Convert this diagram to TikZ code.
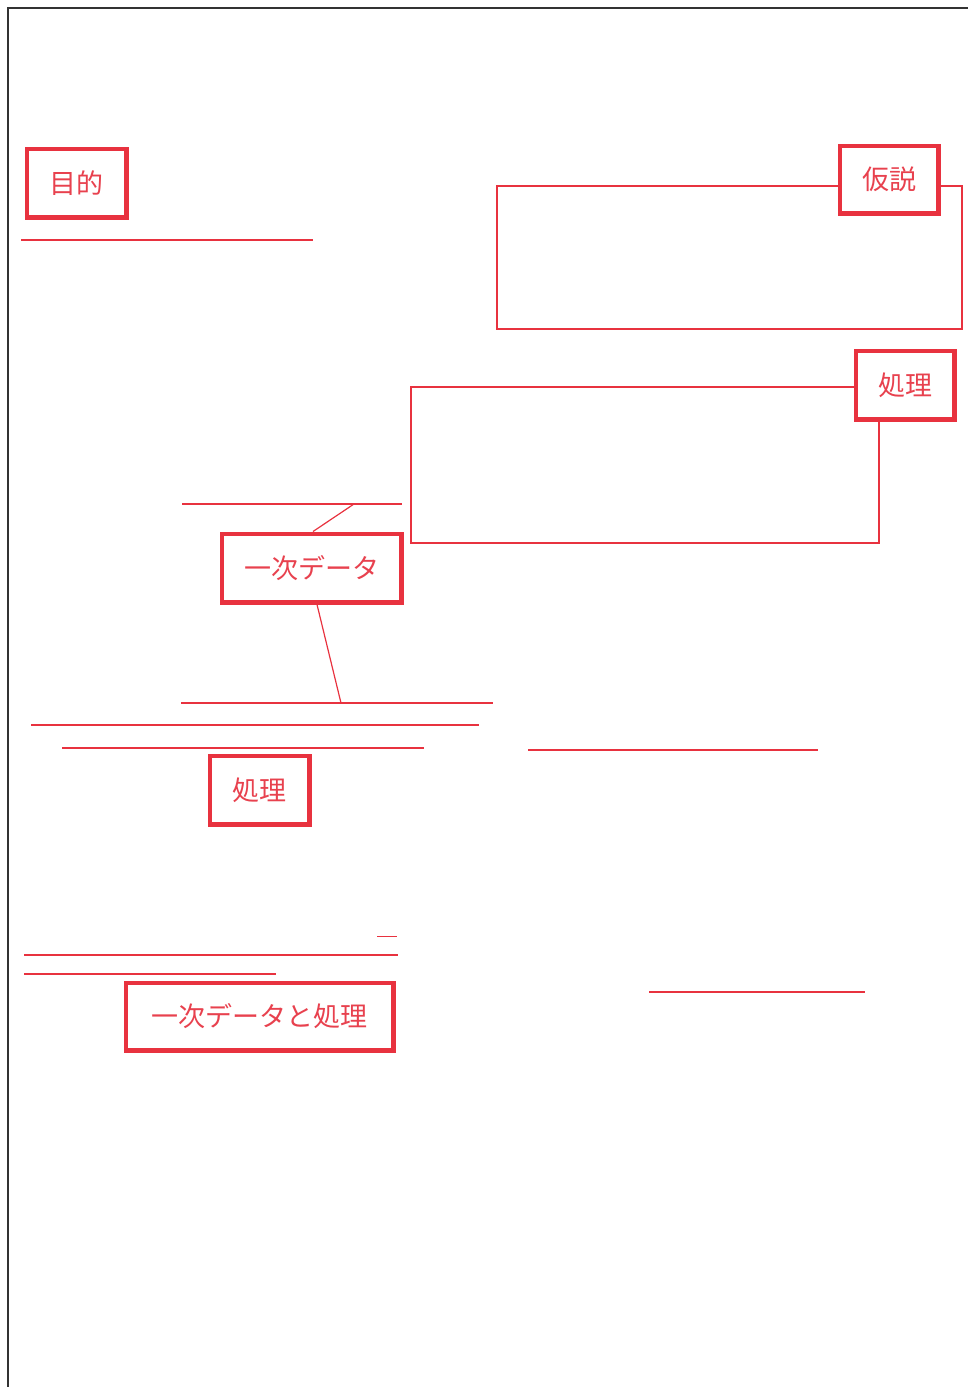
\documentclass[tikz,border=0pt]{standalone}
\usepackage{fontspec}
\newfontfamily\jpfont{Noto Sans CJK JP}
\definecolor{rd}{HTML}{E8323F}
\definecolor{rdtxt}{HTML}{E8414E}
\definecolor{frm}{HTML}{333333}
\tikzset{
  lbl/.style={draw=rd, line width=4.5pt, fill=white, inner sep=0pt, text=rdtxt,
              font=\jpfont\fontsize{27}{31}\selectfont, anchor=north west},
  thin/.style={draw=rd, line width=1.2pt},
  frame/.style={draw=frm, line width=2pt}
}
\begin{document}
\begin{tikzpicture}[x=1pt,y=-1pt]
\useasboundingbox (0,0) rectangle (968,1387);
% frame
\draw[frame] (8,1387) -- (8,8) -- (968,8);
% 目的
\node[lbl, minimum width=99.5pt, minimum height=68.5pt] (mokuteki) at (24.5,146.5) {目的};
\coordinate (l1a) at (21,240); \coordinate (l1b) at (313,240);
\draw[thin] (l1a) -- (l1b);
% 仮説 rectangle
\coordinate (r1a) at (497,186); \coordinate (r1b) at (497,329);
\coordinate (r1c) at (962,329); \coordinate (r1d) at (962,186);
\node[lbl, minimum width=98.5pt, minimum height=67.5pt] (kasetsu) at (837.5,143.5) {仮説};
\draw[thin] (kasetsu.west |- r1a) -- (r1a) -- (r1b) -- (r1c) -- (r1d) -- (kasetsu.east |- r1d);
% 処理 rectangle (top right)
\node[lbl, minimum width=98.5pt, minimum height=68.5pt] (shori1) at (853.5,348.5) {処理};
\coordinate (r2a) at (411,387); \coordinate (r2b) at (411,543);
\coordinate (r2c) at (879,543);
\draw[thin] (shori1.west |- r2a) -- (r2a) -- (r2b) -- (r2c) -- (shori1.south -| r2c);
% 一次データ
\node[lbl, minimum width=179.5pt, minimum height=68.5pt] (ichiji) at (219.5,531.5) {一次データ};
\coordinate (l2a) at (182,504); \coordinate (l2b) at (402,504); \coordinate (l2m) at (354,504);
\draw[thin] (l2a) -- (l2b);
\draw[thin] (l2m) -- (ichiji.north -| 313,0);
\coordinate (l3a) at (181,703); \coordinate (l3b) at (493,703); \coordinate (l3m) at (341,703);
\draw[thin] (l3a) -- (l3b);
\draw[thin] (ichiji.south -| 317,0) -- (l3m);
% lines
\coordinate (l4a) at (31,725); \coordinate (l4b) at (479,725);
\draw[thin] (l4a) -- (l4b);
\coordinate (l5a) at (62,748); \coordinate (l5b) at (424,748);
\draw[thin] (l5a) -- (l5b);
\coordinate (l6a) at (528,750); \coordinate (l6b) at (818,750);
\draw[thin] (l6a) -- (l6b);
% 処理 lower
\node[lbl, minimum width=99.5pt, minimum height=68.5pt] (shori2) at (207.5,753.5) {処理};
% lines lower
\coordinate (l7a) at (377,936.5); \coordinate (l7b) at (397,936.5);
\draw[draw=rd, line width=1.8pt] (l7a) -- (l7b);
\coordinate (l8a) at (24,955); \coordinate (l8b) at (398,955);
\draw[thin] (l8a) -- (l8b);
\coordinate (l9a) at (24,974); \coordinate (l9b) at (276,974);
\draw[thin] (l9a) -- (l9b);
\coordinate (l10a) at (649,992); \coordinate (l10b) at (865,992);
\draw[thin] (l10a) -- (l10b);
% 一次データと処理
\node[lbl, minimum width=267.5pt, minimum height=67.5pt] (ichijishori) at (123.5,980.5) {一次データと処理};
\end{tikzpicture}
\end{document}
